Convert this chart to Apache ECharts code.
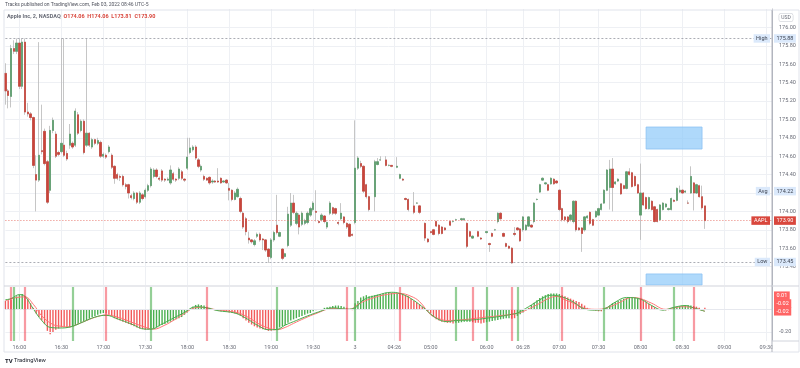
<!DOCTYPE html>
<html><head><meta charset="utf-8">
<script src="https://cdn.jsdelivr.net/npm/echarts/dist/echarts.min.js"></script>
<style>html,body{margin:0;padding:0;background:#fff}#c{width:800px;height:368px}</style>
</head><body><div id="c"></div>
<script>
const SLOT_COUNT = 275;
const tickSlots  = [5,20,35,50,65,80,95,110,125,139,152,172,185,198,212,227,242,257,272];
const tickLabels = ['16:00','16:30','17:00','17:30','18:00','18:30','19:00','19:30','3','04:26','05:00','06:00','06:28','07:00','07:30','08:00','08:30','09:00','09:30'];

// [open, close, low, high] per 2-minute slot
const afterHoursBars = [
[175.50,175.31,175.16,175.61],[175.31,175.26,175.12,175.33],[175.25,175.77,175.13,175.81],[175.77,175.74,175.71,175.86],
[175.74,175.83,175.71,175.88],[175.83,175.36,175.33,175.88],[175.36,175.84,175.33,175.88],[175.84,175.08,175.05,175.88],
[175.08,175.06,175.03,175.18],[175.06,175.02,174.99,175.08],[175.02,174.50,174.47,175.03],[174.40,174.34,174.00,174.61],
[174.34,174.61,174.32,175.84],[174.66,174.65,174.62,175.16],[174.87,174.52,174.50,174.90],[174.54,174.10,174.08,174.56],
[174.23,174.88,174.20,174.93],[174.88,174.99,174.85,175.02],[174.84,174.60,174.58,174.87],[174.64,174.62,174.60,174.66],
[174.65,174.74,174.63,175.88],[174.72,174.61,174.59,175.88],[174.63,174.57,174.55,174.66],[174.72,174.84,174.68,174.95],
[174.74,174.70,174.68,174.76],[174.72,175.09,174.70,175.12],[175.05,174.85,174.83,175.08],[174.88,174.98,174.86,175.00],
[174.98,174.64,174.62,175.00],[174.72,174.85,174.70,175.88],[174.85,174.72,174.70,174.86],[174.70,174.78,174.68,174.80],
[174.78,174.74,174.72,174.79],[174.74,174.77,174.72,174.80],[174.75,174.60,174.58,174.77],[174.60,174.62,174.58,174.64],
[174.61,174.59,174.57,174.63],[174.65,174.70,174.63,174.72],[174.61,174.48,174.46,174.63],[174.49,174.36,174.30,174.50],
[174.40,174.36,174.34,174.42],[174.38,174.37,174.33,174.40],[174.38,174.29,174.27,174.40],[174.29,174.27,174.24,174.31],
[174.29,174.20,174.14,174.30],[174.17,174.15,174.13,174.19],[174.14,174.20,174.12,174.22],[174.20,174.10,174.08,174.21],
[174.10,174.20,174.08,174.22],[174.18,174.14,174.12,174.20],[174.16,174.23,174.14,174.25],[174.23,174.28,174.21,174.30],
[174.28,174.46,174.26,174.48],[174.38,174.45,174.36,174.47],[174.45,174.38,174.36,174.47],[174.36,174.35,174.33,174.38],
[174.44,174.34,174.32,174.46],[174.35,174.34,174.32,174.36],[174.34,174.35,174.33,174.37],[174.31,174.45,174.29,174.50],
[174.41,174.35,174.33,174.43],[174.35,174.34,174.32,174.36],[174.36,174.46,174.34,174.48],[174.43,174.36,174.34,174.45],
[174.35,174.34,174.32,174.36],[174.47,174.59,174.45,174.80],[174.64,174.69,174.62,174.80],[174.67,174.70,174.65,174.72],
[174.70,174.58,174.56,174.72],[174.56,174.49,174.47,174.58],[174.45,174.49,174.43,174.51],[174.38,174.35,174.33,174.40],
[174.36,174.34,174.33,174.37],[174.37,174.31,174.29,174.38],[174.32,174.33,174.30,174.35],[174.33,174.32,174.31,174.34],
[174.33,174.32,174.31,174.47],[174.36,174.31,174.30,174.37],[174.32,174.33,174.31,174.34],[174.34,174.31,174.30,174.35],
[174.25,174.23,174.12,174.31],[174.23,174.13,174.11,174.24],[174.13,174.20,174.12,174.22],[174.16,174.24,174.15,174.26],
[174.14,174.00,173.98,174.16],[173.98,173.83,173.81,174.00],[173.92,173.78,173.74,173.94],[173.71,173.69,173.65,173.78],
[173.69,173.67,173.65,173.70],[173.64,173.68,173.62,173.70],[173.73,173.75,173.71,173.77],[173.75,173.69,173.67,173.77],
[173.70,173.69,173.58,173.71],[173.69,173.58,173.56,173.70],[173.59,173.51,173.44,173.60],[173.50,173.69,173.48,173.71],
[173.69,173.77,173.67,173.79],[173.85,173.77,173.75,174.18],[173.73,173.77,173.72,173.78],[173.59,173.49,173.47,173.60],
[173.51,173.54,173.50,173.55],[173.63,173.97,173.61,174.05],[173.85,174.09,173.83,174.20],[174.09,173.99,173.97,174.18],
[173.87,173.98,173.85,174.00],[173.96,173.83,173.75,173.98],[173.86,173.98,173.84,174.00],[173.87,173.90,173.85,173.92],
[173.88,173.98,173.86,174.00],[173.96,174.03,173.94,174.05],[174.02,174.09,174.00,174.11],[174.00,173.99,173.89,174.23],
[173.89,173.88,173.87,173.90],[173.91,173.96,173.89,173.98],[173.95,173.89,173.87,173.96],[173.83,173.88,173.81,173.89],
[173.98,174.09,173.96,174.11],[174.04,173.98,173.96,174.05],[174.03,173.98,173.96,174.04],[173.88,173.87,173.85,173.89],
[173.92,173.98,173.90,174.09],[173.94,173.88,173.86,173.95],[173.87,173.83,173.81,173.88],[173.86,173.73,173.72,173.87],
[173.75,173.74,173.73,173.76]
];
const preMarketBars = [
[173.88,174.47,173.86,174.99],[174.47,174.58,174.45,174.60],[174.52,174.49,174.47,174.55],[174.49,174.22,174.20,174.50],
[174.29,174.16,174.14,174.30],[174.16,174.02,174.00,174.17],null,[174.16,174.54,174.00,174.56],
[174.51,174.54,174.50,174.58],[174.56,174.56,174.55,174.60],null,[174.56,174.50,174.49,174.60],
[174.50,174.50,174.49,174.51],[174.50,174.49,174.48,174.50],null,[174.48,174.49,174.47,174.59],
[174.36,174.40,174.35,174.41],[174.35,174.34,174.33,174.36],[174.14,174.13,174.12,174.15],[174.13,174.02,174.00,174.14],
null,[174.06,173.99,173.97,174.21],[174.09,174.09,174.08,174.10],[174.06,173.99,173.97,174.07],
null,[173.87,173.71,173.68,173.88],[173.70,173.67,173.66,173.71],[173.78,173.77,173.76,173.79],
[173.80,173.75,173.74,173.81],[173.89,173.84,173.83,173.90],[173.85,173.76,173.74,173.86],[173.83,173.76,173.75,173.84],
[173.82,173.80,173.79,173.83],null,[173.89,173.85,173.84,173.90],[173.89,173.89,173.88,173.90],
[173.91,173.91,173.90,173.92],null,[173.91,173.92,173.90,173.93],[173.91,173.92,173.90,173.93],
[173.87,173.62,173.60,173.88],[173.78,173.73,173.72,173.79],[173.71,173.73,173.70,173.74],null,
[173.78,173.73,173.72,173.79],[173.71,173.70,173.69,173.72],null,[173.77,173.78,173.76,173.79],
[173.65,173.64,173.56,173.66],[173.76,173.73,173.72,173.77],[173.80,173.80,173.79,173.81],[173.89,173.98,173.87,173.99],
[173.98,173.92,173.91,173.99],[173.76,173.73,173.72,173.77],[173.65,173.62,173.61,173.66],[173.62,173.60,173.59,173.63],
[173.60,173.44,173.43,173.61],[173.76,173.75,173.73,173.83],[173.82,173.80,173.79,173.83],[173.81,173.68,173.67,173.82],
[173.80,173.94,173.78,173.95],[173.80,173.85,173.79,173.86],[173.84,173.94,173.83,173.95],[173.85,173.83,173.82,173.86],
[173.89,174.09,173.87,174.10],[174.13,174.13,174.12,174.14],[174.21,174.29,174.20,174.30],[174.34,174.36,174.33,174.37],
[174.30,174.31,174.29,174.32],[174.29,174.23,174.22,174.30],[174.30,174.36,174.29,174.37],[174.35,174.30,174.29,174.36],
[174.33,174.31,174.30,174.34],[174.23,174.02,174.00,174.24],[174.03,173.91,173.89,174.04],[173.94,173.91,173.89,173.95],
[173.94,173.89,173.87,173.95],[173.91,173.96,173.89,173.97],[173.89,174.11,173.87,174.12],[174.11,173.80,173.78,174.12],
[173.82,173.80,173.79,173.83],[173.82,173.76,173.56,173.83],[173.80,173.94,173.78,173.95],[173.93,173.95,173.92,173.96],
[173.99,173.87,173.85,174.00],[173.91,173.85,173.84,173.92],[173.94,174.00,173.93,174.01],[173.96,174.03,173.95,174.04],
[174.02,174.08,174.01,174.09],[174.09,174.23,174.08,174.24],[174.23,174.45,174.22,174.46],[174.26,174.46,174.02,174.56],
[174.46,174.26,174.00,174.58],[174.30,174.32,174.29,174.33],[174.33,174.35,174.32,174.36],[174.30,174.19,174.18,174.31],
[174.28,174.25,174.24,174.29],[174.25,174.43,174.24,174.44],[174.43,174.40,174.39,174.47],[174.42,174.27,174.26,174.43],
[174.38,174.28,174.27,174.39],[174.29,174.20,174.19,174.30],[173.96,174.20,173.69,174.52],[174.20,174.07,174.06,174.21],
[174.15,174.03,174.02,174.16],[174.03,174.15,174.02,174.16],[174.11,174.02,174.01,174.12],[174.05,173.89,173.88,174.06],
[174.02,173.89,173.88,174.03],[173.91,174.07,173.90,174.08],[174.02,174.09,174.01,174.10],[174.05,174.08,174.04,174.09],
[174.02,174.03,174.01,174.04],[174.02,174.14,174.01,174.15],[174.12,174.11,174.10,174.13],[174.12,174.25,174.11,174.26],
[174.21,174.23,174.20,174.28],[174.23,174.20,174.19,174.24],[174.21,174.22,174.20,174.23],[174.09,174.09,174.08,174.12],
[174.20,174.38,174.19,174.49],[174.31,174.20,174.01,174.32],[174.20,174.29,174.19,174.30],[174.28,174.16,174.15,174.29],
[174.16,174.04,174.02,174.28],[174.06,173.90,173.81,174.06]
];

const histAfterHours = [
0.07,0.075,0.08, 0.10,0.11,0.125,0.13,
0.11,0.09,0.05,0.01,-0.04,-0.07,-0.10,-0.13,-0.19,-0.22,-0.20,-0.18,-0.17,-0.16,-0.16,-0.165,-0.16,
-0.15,-0.14,-0.13,-0.12,-0.11,-0.10,-0.085,-0.07,-0.06,-0.05,-0.04,-0.035,
-0.04,-0.05,-0.06,-0.08,-0.09,-0.10,-0.11,-0.12,-0.13,-0.14,-0.15,-0.16,-0.17,-0.175,-0.18,-0.18,
-0.18,-0.17,-0.16,-0.15,-0.14,-0.13,-0.12,-0.11,-0.10,-0.09,-0.08,-0.07,-0.05,-0.03,0.0,0.02,0.035,0.04,0.035,0.03,
0.02,0.01,0.0,-0.01,-0.015,-0.02,-0.02,-0.025,-0.03,-0.035,-0.04,-0.045,-0.06,-0.08,-0.10,-0.12,-0.135,-0.15,-0.16,-0.17,-0.175,-0.18,-0.19,-0.19,-0.185,
-0.18,-0.16,-0.15,-0.14,-0.12,-0.10,-0.09,-0.08,-0.07,-0.06,-0.05,-0.04,-0.035,-0.02,-0.01,-0.005,0.0,0.01,0.015,0.02,0.025,0.03,0.03,0.025,0.02,
0.01,0.0,-0.01
];
const histPreMarket = [
0.05,0.07,0.10,0.11,0.12,0.11,0.115,0.12,0.125,0.13,0.135,0.14,0.14,0.14,0.14,0.14,
0.135,0.13,0.12,0.11,0.09,0.07,0.055,0.04,0.02,0.0,-0.02,-0.04,-0.065,-0.09,-0.10,-0.11,-0.115,-0.12,-0.12,-0.125,
-0.12,-0.12,-0.115,-0.11,-0.11,-0.11,
-0.115,-0.12,-0.12,-0.125,-0.12,
-0.115,-0.11,-0.105,-0.10,-0.095,-0.09,-0.085,-0.08,-0.08,
-0.085,-0.08,
-0.06,-0.045,-0.03,-0.01,0.01,0.035,0.055,0.075,0.095,0.11,0.12,0.13,0.135,0.135,0.135,0.13,
0.12,0.11,0.10,0.09,0.08,0.07,0.06,0.045,0.03,0.01,0.0,-0.01,-0.015,-0.02,-0.02,
-0.01,0.01,0.03,0.05,0.06,0.07,0.08,0.09,0.095,0.10,0.10,0.10,0.095,
0.09,0.075,0.06,0.045,0.03,0.015,0.005,-0.005,-0.01,-0.012,-0.01,-0.005,
0.01,0.02,0.025,0.03,0.035,0.035,0.03,
0.025,0.02,0.01,0.0,0.01
];
const crossUpSlots   = [3,24,52,97,125,161,172,183,214,239];
const crossDownSlots = [2,7,36,72,122,141,167,181,199,227,246];

const signalLine = [[0,0.07],[4,0.10],[7,0.105],[10,0.04],[13,-0.06],[17,-0.135],[20,-0.15],[23,-0.155],[26,-0.13],[29,-0.10],[33,-0.065],[36,-0.052],[40,-0.07],[43,-0.095],[49,-0.15],[53,-0.175],[57,-0.14],[60,-0.10],[64,-0.04],[67,0.005],[70,0.015],[75,-0.005],[80,-0.02],[84,-0.04],[88,-0.09],[91,-0.135],[94,-0.165],[97,-0.18],[100,-0.16],[103,-0.125],[107,-0.08],[111,-0.04],[117,0.005],[123,-0.003],[126,0.04],[129,0.075],[135,0.12],[141,0.135],[145,0.11],[148,0.065],[152,-0.05],[155,-0.085],[158,-0.10],[165,-0.09],[170,-0.075],[176,-0.06],[183,-0.038],[187,0.0],[191,0.05],[194,0.09],[197,0.11],[200,0.08],[204,0.04],[207,0.006],[212,-0.003],[216,0.02],[219,0.05],[224,0.10],[227,0.09],[231,0.05],[236,-0.003],[239,0.01],[242,0.02],[246,0.01],[250,-0.02]];
const macdLine = [[0,0.08],[2,0.09],[5,0.125],[7,0.11],[10,0.0],[13,-0.10],[16,-0.16],[20,-0.165],[24,-0.15],[28,-0.11],[32,-0.07],[36,-0.055],[40,-0.085],[45,-0.13],[50,-0.175],[52,-0.175],[56,-0.13],[60,-0.08],[64,-0.03],[68,0.02],[72,0.01],[76,-0.015],[82,-0.035],[86,-0.08],[90,-0.14],[94,-0.18],[97,-0.178],[100,-0.14],[104,-0.10],[108,-0.06],[112,-0.025],[117,0.01],[122,-0.002],[125,0.01],[128,0.08],[133,0.12],[138,0.145],[141,0.135],[145,0.09],[150,0.0],[154,-0.08],[158,-0.11],[161,-0.10],[167,-0.095],[172,-0.08],[178,-0.06],[181,-0.045],[183,-0.035],[187,0.02],[191,0.08],[195,0.12],[199,0.105],[203,0.06],[207,0.0],[211,-0.01],[214,0.0],[218,0.06],[222,0.10],[227,0.085],[231,0.03],[235,-0.01],[239,0.015],[243,0.03],[246,0.01],[250,-0.02]];

const highPrice = 175.88, avgPrice = 174.22, lowPrice = 173.45, lastPrice = 173.90;
const zoneUpper = [229, 249, 174.917, 174.678];
const zoneLower = [229, 249, 173.32, 173.2];

const UP='#5a9e6b', DOWN='#c9443a', WICK='#b8b8b8';
const HUP='#4caf50', HDN='#f25b5b';
const FONT='Roboto, "Noto Sans", sans-serif';

const cats = Array.from({length: SLOT_COUNT}, (_, i) => String(i));
const allBars = afterHoursBars.concat(preMarketBars);
const bars = [];
allBars.forEach((b, i) => { if (b) bars.push([i, b[0], b[1], b[2], b[3]]); });
const bodies = bars.map(b => [b[0], b[1], b[2], Math.min(b[1], b[2]), Math.max(b[1], b[2])]);
const hist = histAfterHours.concat(histPreMarket);
function rising(i) {
  let last = -1, up = false;
  crossUpSlots.forEach(s => { if (s <= i && s > last) { last = s; up = true; } });
  crossDownSlots.forEach(s => { if (s <= i && s > last) { last = s; up = false; } });
  return up;
}
const histData = hist.map((v, i) => ({ value: v, itemStyle: { color: rising(i) ? HUP : HDN } }));

const xBase = (gi, showLabels) => ({
  type: 'category', gridIndex: gi, data: cats, boundaryGap: false,
  axisLine: { show: showLabels, lineStyle: { color: '#c9ccd3' } },
  axisTick: { show: false },
  axisLabel: { show: showLabels, interval: (idx) => tickSlots.includes(idx), fontSize: 5.5, color: '#6a6d78', fontFamily: FONT, margin: 4,
    formatter: (v) => { const k = tickSlots.indexOf(Number(v)); return k >= 0 ? tickLabels[k] : ''; } },
  splitLine: { show: true, interval: (idx) => tickSlots.includes(idx), lineStyle: { color: '#eef0f4' } }
});

const option = {
  animation: false,
  backgroundColor: '#ffffff',
  title: [
    { text: 'Tracks published on TradingView.com, Feb 03, 2022 08:46 UTC-5', left: 5, top: 2, padding: 0,
      textStyle: { fontSize: 5, fontWeight: 'normal', color: '#50535e', fontFamily: FONT } },
    { text: '{n|Apple Inc, 2, NASDAQ}  {v|O174.06}  {v|H174.06}  {v|L173.81}  {v|C173.90}', left: 7, top: 14, padding: 0,
      textStyle: { fontSize: 5.5, fontFamily: FONT, rich: { n: { fontSize: 5.5, color: '#6a6d78', fontFamily: FONT }, v: { fontSize: 5.5, color: '#d9473d', fontFamily: FONT } } } }
  ],
  grid: [
    { left: 5.4, right: 28, top: 9, height: 276 },
    { left: 5.4, right: 28, top: 287, height: 54 }
  ],
  xAxis: [ xBase(0, false), xBase(1, true) ],
  yAxis: [
    { type: 'value', gridIndex: 0, position: 'right', min: 173.2, max: 176.2, interval: 0.2,
      axisLine: { show: true, lineStyle: { color: '#b2b5be' } }, axisTick: { show: false },
      axisLabel: { fontSize: 5.5, color: '#6a6d78', fontFamily: FONT, margin: 7,
        formatter: (v) => (v < 173.3 || v > 176.1) ? '' : v.toFixed(2) },
      splitLine: { show: true, showMinLine: false, showMaxLine: false, lineStyle: { color: '#eef0f4' } } },
    { type: 'value', gridIndex: 1, position: 'right', min: -0.278, max: 0.191,
      axisLine: { show: true, lineStyle: { color: '#b2b5be' } }, axisTick: { show: false },
      axisLabel: { show: false }, splitLine: { show: false } }
  ],
  series: [
    { type: 'candlestick', name: 'wick', xAxisIndex: 0, yAxisIndex: 0, data: bars, encode: { x: 0, y: [1, 2, 3, 4] },
      barWidth: 1.8, z: 2,
      itemStyle: { color: WICK, color0: WICK, borderColor: WICK, borderColor0: WICK, borderWidth: 0.8 },
      markLine: { silent: true, symbol: ['none', 'none'], label: { show: false },
        data: [
          { yAxis: highPrice, lineStyle: { color: '#9598a1', type: [2, 2], width: 0.8 } },
          { yAxis: lowPrice, lineStyle: { color: '#9598a1', type: [2, 2], width: 0.8 } },
          { yAxis: lastPrice, lineStyle: { color: '#e35d52', type: [1, 2], width: 0.8 } }
        ] },
      markArea: { silent: true, itemStyle: { color: 'rgba(144,202,249,0.72)', borderColor: '#8cc2f4', borderWidth: 0.8 },
        data: [
          [ { xAxis: zoneUpper[0], yAxis: zoneUpper[2] }, { xAxis: zoneUpper[1], yAxis: zoneUpper[3] } ],
          [ { xAxis: zoneLower[0], yAxis: zoneLower[2] }, { xAxis: zoneLower[1], yAxis: zoneLower[3] } ]
        ] } },
    { type: 'candlestick', name: 'body', xAxisIndex: 0, yAxisIndex: 0, data: bodies, encode: { x: 0, y: [1, 2, 3, 4] },
      barWidth: 1.8, z: 3,
      itemStyle: { color: UP, color0: DOWN, borderColor: UP, borderColor0: DOWN, borderWidth: 0.7 } },
    { type: 'bar', name: 'hist', xAxisIndex: 1, yAxisIndex: 1, data: histData, barWidth: 1.4, z: 3,
      markLine: { silent: true, symbol: ['none', 'none'], label: { show: false },
        data: [
          { yAxis: 0, lineStyle: { color: '#e6e8ee', type: 'solid', width: 1 } },
          { yAxis: -0.2, lineStyle: { color: '#eef0f4', type: 'solid', width: 1 } }
        ].concat(
          crossUpSlots.map(s => ({ xAxis: s, lineStyle: { color: 'rgba(76,175,80,0.6)', type: 'solid', width: 2.2 } })),
          crossDownSlots.map(s => ({ xAxis: s, lineStyle: { color: 'rgba(242,54,69,0.5)', type: 'solid', width: 2.2 } }))
        ) } },
    { type: 'line', name: 'signal', xAxisIndex: 1, yAxisIndex: 1, data: signalLine, smooth: 0.4, symbol: 'none', z: 4,
      lineStyle: { color: '#ff7676', width: 1 } },
    { type: 'line', name: 'macd', xAxisIndex: 1, yAxisIndex: 1, data: macdLine, smooth: 0.4, symbol: 'none', z: 4,
      lineStyle: { color: '#4caf50', width: 1 } }
  ]
};

const chart = echarts.init(document.getElementById('c'), null, { renderer: 'canvas' });
chart.setOption(option);

const py = v => chart.convertToPixel({ yAxisIndex: 0 }, v);
const iy = v => chart.convertToPixel({ yAxisIndex: 1 }, v);
const tagFont = '5.5px ' + FONT;
function tag(text, x, y, bg, fg, align) {
  return { type: 'text', z: 200, x: x, y: y,
    style: { text: text, font: tagFont, fill: fg, backgroundColor: bg, padding: [1.5, 2.5, 1, 2.5], align: align, verticalAlign: 'middle' } };
}
const BLUE_BG = '#dbe9fb', BLUE_FG = '#3d4452', RED_BG = '#d9473d';
const g = [];
g.push({ type: 'rect', z: 150, shape: { x: 4, y: 10, width: 795, height: 342 }, style: { fill: null, stroke: '#e0e3eb', lineWidth: 1 } });
g.push({ type: 'line', z: 150, shape: { x1: 4, y1: 286, x2: 799, y2: 286 }, style: { stroke: '#d1d4dc', lineWidth: 1.2 } });
g.push({ type: 'rect', z: 140, shape: { x: 772.5, y: 342, width: 26, height: 9.5 }, style: { fill: '#ffffff' } });
g.push({ type: 'line', z: 150, shape: { x1: 772, y1: 10, x2: 772, y2: 352 }, style: { stroke: '#b2b5be', lineWidth: 1 } });
g.push({ type: 'line', z: 150, shape: { x1: 772, y1: 341, x2: 799, y2: 341 }, style: { stroke: '#d1d4dc', lineWidth: 1 } });
g.push({ type: 'text', z: 200, x: 786, y: 17.5, style: { text: 'USD', font: '5px ' + FONT, fill: '#6a6d78', align: 'center', verticalAlign: 'middle',
  borderColor: '#c9ccd3', borderWidth: 0.6, borderRadius: 1.5, padding: [1.5, 2, 1, 2], backgroundColor: '#fff' } });
[['High', highPrice], ['Avg', avgPrice], ['Low', lowPrice]].forEach(([n, v]) => {
  const y = py(v);
  g.push(tag(n, 770, y, BLUE_BG, BLUE_FG, 'right'));
  g.push(tag(v.toFixed(2), 774, y, BLUE_BG, BLUE_FG, 'left'));
});
g.push(tag('AAPL', 770, py(lastPrice), RED_BG, '#fff', 'right'));
g.push(tag(lastPrice.toFixed(2), 774, py(lastPrice), RED_BG, '#fff', 'left'));
const lastHist = hist[hist.length - 1];
const lastSig = signalLine[signalLine.length - 1][1];
const lastMacd = macdLine[macdLine.length - 1][1];
const baseY = iy(Math.min(lastSig, lastMacd));
[[lastSig, 0], [lastMacd, 1], [lastHist, 2]].forEach(([v, k]) => {
  g.push(tag(v.toFixed(2), 774, baseY - k * 7.8, '#ff6464', '#fff', 'left'));
});
g.push({ type: 'text', z: 200, x: 779, y: iy(-0.2), style: { text: '-0.20', font: tagFont, fill: '#6a6d78', align: 'left', verticalAlign: 'middle' } });
g.push({ type: 'text', z: 200, x: 5, y: 361, style: { text: 'TV', font: 'bold 6px ' + FONT, fill: '#131722', align: 'left', verticalAlign: 'middle' } });
g.push({ type: 'text', z: 200, x: 14, y: 361, style: { text: 'TradingView', font: '5.8px ' + FONT, fill: '#131722', align: 'left', verticalAlign: 'middle' } });
chart.setOption({ graphic: g });
</script>
</body></html>
